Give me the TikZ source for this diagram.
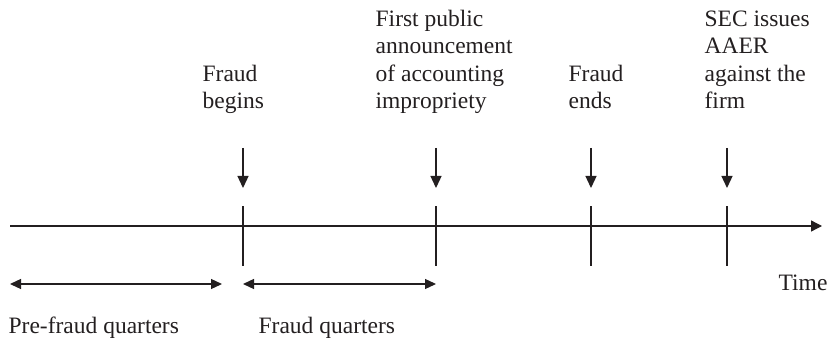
\documentclass[tikz,border=0pt]{standalone}
\usepackage{fontspec}
\setmainfont{Liberation Serif}
\usetikzlibrary{arrows.meta}
\definecolor{ink}{HTML}{231F20}
\begin{document}
\begin{tikzpicture}[x=1pt,y=-1pt,line width=1.3pt,draw=ink,
  lbl/.style={font=\fontsize{23.5}{27.5}\selectfont,inner sep=0pt,align=left,anchor=base west,text=ink},
  downarrow/.style={-{Triangle[length=12pt,width=11pt]}},
  axis/.style={-{Triangle[length=11pt,width=11pt]}},
  span/.style={{Triangle[length=11pt,width=10pt]}-{Triangle[length=11pt,width=10pt]}}]
\useasboundingbox (0,0) rectangle (832,339);
% time axis
\coordinate (axL) at (10,226);
\coordinate (axR) at (822,226);
\draw[axis] (axL) -- (axR);
% events: ticks and arrows
\foreach \n/\x in {a/243,b/436,c/591,d/727}{
  \coordinate (\n arrTop) at (\x,148);
  \coordinate (\n arrBot) at (\x,188);
  \coordinate (\n tickTop) at (\x,206);
  \coordinate (\n tickBot) at (\x,266);
  \draw[downarrow] (\n arrTop) -- (\n arrBot);
  \draw (\n tickTop) -- (\n tickBot);
}
% labels
\node[lbl] (fbegins) at (202,109) {Fraud\\begins};
\node[lbl] (announce) at (375,109) {First public\\announcement\\of accounting\\impropriety};
\node[lbl] (fends) at (568,109) {Fraud\\ends};
\node[lbl] (sec) at (704,109) {SEC issues\\AAER\\against the\\firm};
\node[lbl] (time) at (778,290) {Time};
% spans
\coordinate (preL) at (10,284);
\coordinate (preR) at (222,284);
\coordinate (frL) at (243,284);
\coordinate (frR) at (436,284);
\draw[span] (preL) -- (preR);
\draw[span] (frL) -- (frR);
\node[lbl] (prelbl) at (8,333) {Pre-fraud quarters};
\node[lbl] (frlbl) at (258,333) {Fraud quarters};
\end{tikzpicture}
\end{document}
